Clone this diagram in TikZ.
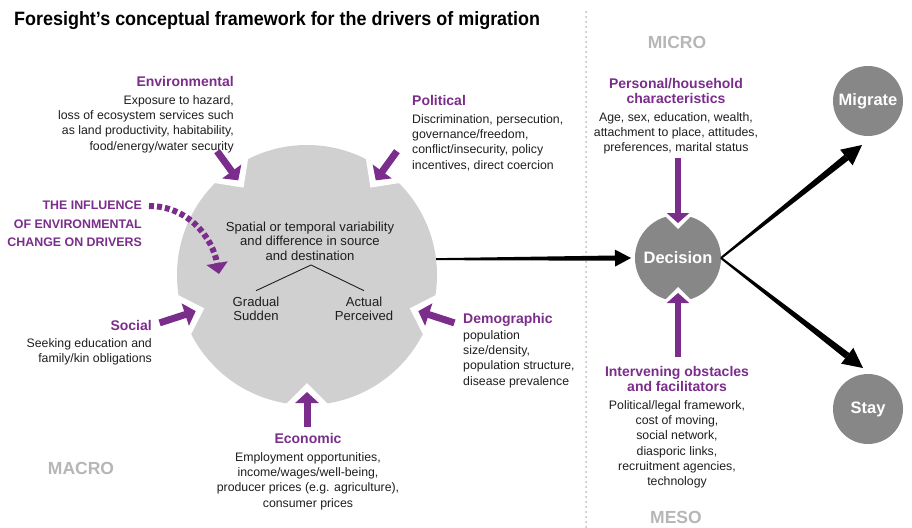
\documentclass[tikz,border=0pt]{standalone}
\usepackage{fontspec}
\setmainfont{Liberation Sans}
\newfontfamily\titlefont{Liberation Sans}[FakeStretch=0.93]
\usetikzlibrary{arrows.meta,calc}

\definecolor{drvpurple}{RGB}{123,45,139}
\definecolor{drvlight}{RGB}{208,208,208}
\definecolor{drvdark}{RGB}{135,135,135}
\definecolor{scalegray}{RGB}{182,182,182}
\definecolor{txt}{RGB}{30,30,30}

% tapered black arrow: #1 start, #2 tip, #3 start half-width, #4 end half-width,
% #5 head length, #6 head half-width, #7 colour
\newcommand\taperarrow[7]{%
  \path ($(#2)!#5!(#1)$) coordinate (tabase);
  \fill[#7] ($(#1)!#3!90:(#2)$) -- ($(tabase)!#4!-90:(#1)$) --
            ($(tabase)!#4!90:(#1)$) -- ($(#1)!#3!-90:(#2)$) -- cycle;
  \fill[#7] (#2) -- ($(tabase)!#6!90:(#1)$) -- ($(tabase)!#6!-90:(#1)$) -- cycle;
}

\tikzset{
  headlabel/.style={font=\fontsize{14}{15}\selectfont\bfseries, text=drvpurple, inner sep=0pt},
  bodytext/.style={font=\fontsize{12.3}{15.3}\selectfont, text=txt, inner sep=0pt},
  capslabel/.style={font=\fontsize{12.4}{18.5}\selectfont\bfseries, text=drvpurple, inner sep=0pt},
  innertext/.style={font=\fontsize{13.1}{14.6}\selectfont, text=txt, inner sep=0pt, align=center},
  scalelabel/.style={font=\fontsize{17.5}{18}\selectfont\bfseries, text=scalegray, inner sep=0pt},
  outcome/.style={circle, fill=drvdark, inner sep=0pt, outer sep=0pt, text=white,
                  font=\fontsize{16.5}{18}\selectfont\bfseries},
  push/.style={draw=drvpurple, line width=7pt, -{Triangle[length=11pt,width=23pt]}},
  pushsmall/.style={draw=drvpurple, line width=6pt, -{Triangle[length=10pt,width=22pt]}},
  divider/.style={draw=scalegray, line width=2pt, line cap=round, dash pattern=on 0pt off 5pt},
}

\begin{document}
\begin{tikzpicture}[x=1pt,y=1pt]
\useasboundingbox (0,0) rectangle (912,-527);

% title
\node[anchor=base west, inner sep=0pt, text=black,
      font=\titlefont\fontsize{19.3}{22}\selectfont\bfseries] (title) at (14,-26)
  {Foresight’s conceptual framework for the drivers of migration};

% macro / micro divider
\coordinate (divTop) at (586,-12);
\coordinate (divBot) at (586,-530);
\draw[divider] (divTop) -- (divBot);

\node[scalelabel] (micro) at (677,-42) {MICRO};
\node[scalelabel] (macro) at (81,-468) {MACRO};
\node[scalelabel] (meso) at (676,-517) {MESO};

% drivers circle with five notches
\node[circle, fill=drvlight, minimum size=260pt, inner sep=0pt, outer sep=0pt] (drivers) at (307,-275) {};
\foreach \a in {54,126,198,270,342}{
  \begin{scope}[shift={(drivers.center)}, rotate=\a]
    \fill[white] (108,0) -- (142,34) -- (142,-34) -- cycle;
  \end{scope}
}

% inner content
\node[innertext] (var) at (310,-241) {Spatial or temporal variability\\and difference in source\\and destination};
\node[innertext] (gradual) at (256,-309) {Gradual\\Sudden};
\node[innertext] (actual) at (364,-309) {Actual\\Perceived};
\coordinate (fork) at (311,-265);
\draw[line width=0.9pt, txt] ([yshift=6pt]gradual.north) -- (fork) -- ([yshift=6pt]actual.north);

% driver labels
\node[headlabel, anchor=base east] (envH) at (234,-86) {Environmental};
\node[bodytext, anchor=north east, align=right] (envT) at (234,-95)
  {Exposure to hazard,\\loss of ecosystem services such\\as land productivity, habitability,\\food/energy/water security};

\node[capslabel, anchor=north east, align=right] (infl) at (142,-201)
  {THE INFLUENCE\\OF ENVIRONMENTAL\\CHANGE ON DRIVERS};

\node[headlabel, anchor=base west] (polH) at (412,-105) {Political};
\node[bodytext, anchor=north west, align=left] (polT) at (412,-114)
  {Discrimination, persecution,\\governance/freedom,\\conflict/insecurity, policy\\incentives, direct coercion};

\node[headlabel, anchor=base east] (socH) at (152,-330) {Social};
\node[bodytext, anchor=north east, align=right] (socT) at (152,-338)
  {Seeking education and\\family/kin obligations};

\node[headlabel, anchor=base west] (demH) at (463,-323) {Demographic};
\node[bodytext, anchor=north west, align=left] (demT) at (463,-330)
  {population\\size/density,\\population structure,\\disease prevalence};

\node[headlabel, anchor=base] (ecoH) at (308,-443) {Economic};
\node[bodytext, anchor=north, align=center] (ecoT) at (308,-452)
  {Employment opportunities,\\income/wages/well-being,\\producer prices (e.g. agriculture),\\consumer prices};

% driver arrows into the notches
\path (drivers.center) ++(126:117) coordinate (envTip) ++(126:36) coordinate (envTail);
\path (drivers.center) ++(54:117)  coordinate (polTip) ++(54:36)  coordinate (polTail);
\path (drivers.center) ++(198:117) coordinate (socTip) ++(198:38) coordinate (socTail);
\path (drivers.center) ++(342:117) coordinate (demTip) ++(342:38) coordinate (demTail);
\path (drivers.center) ++(270:117) coordinate (ecoTip) ++(270:35) coordinate (ecoTail);
\draw[push] (envTail) -- (envTip);
\draw[push] (polTail) -- (polTip);
\draw[push] (socTail) -- (socTip);
\draw[push] (demTail) -- (demTip);
\draw[push] (ecoTail) -- (ecoTip);

% influence of environmental change
\coordinate (inflTail) at (149,-206);
\coordinate (inflTip) at (219,-274);
\draw[drvpurple, line width=6pt, dash pattern=on 5pt off 3pt,
      -{Triangle[length=11pt,width=21pt]}] (inflTail) to[out=0, in=100] (inflTip);

% decision and outcomes
\node[outcome, minimum size=86pt] (dec) at (678,-258) {Decision};
\foreach \a in {90,270}{
  \begin{scope}[shift={(dec.center)}, rotate=\a]
    \fill[white] (29,0) -- (55,26) -- (55,-26) -- cycle;
  \end{scope}
}
\node[outcome, minimum size=70pt] (mig) at (868,-101) {Migrate};
\node[outcome, minimum size=70pt] (stay) at (868,-409) {Stay};

% micro / meso labels
\node[headlabel, anchor=north, align=center] (perH) at (676,-78) {Personal/household\\characteristics};
\node[bodytext, anchor=north, align=center] (perT) at (676,-112)
  {Age, sex, education, wealth,\\attachment to place, attitudes,\\preferences, marital status};
\node[headlabel, anchor=north, align=center] (intH) at (677,-366) {Intervening obstacles\\and facilitators};
\node[bodytext, anchor=north, align=center] (intT) at (677,-400)
  {Political/legal framework,\\cost of moving,\\social network,\\diasporic links,\\recruitment agencies,\\technology};

\path (dec.center) ++(0,35) coordinate (perTip) ++(0,65) coordinate (perTail);
\path (dec.center) ++(0,-35) coordinate (intTip) ++(0,-64) coordinate (intTail);
\draw[pushsmall] (perTail) -- (perTip);
\draw[pushsmall] (intTail) -- (intTip);

% flows
\coordinate (decIn) at ($(dec.west)+(-4,0)$);
\coordinate (migTip) at ($(mig.south)+(-6,-9)$);
\coordinate (stayTip) at ($(stay.north)+(-5,6)$);
\taperarrow{drivers.7.5}{decIn}{1pt}{2.6pt}{16pt}{8.5pt}{black}
\taperarrow{dec.east}{migTip}{1pt}{3.4pt}{20pt}{10pt}{black}
\taperarrow{dec.east}{stayTip}{1pt}{3.4pt}{20pt}{10pt}{black}

\end{tikzpicture}
\end{document}
